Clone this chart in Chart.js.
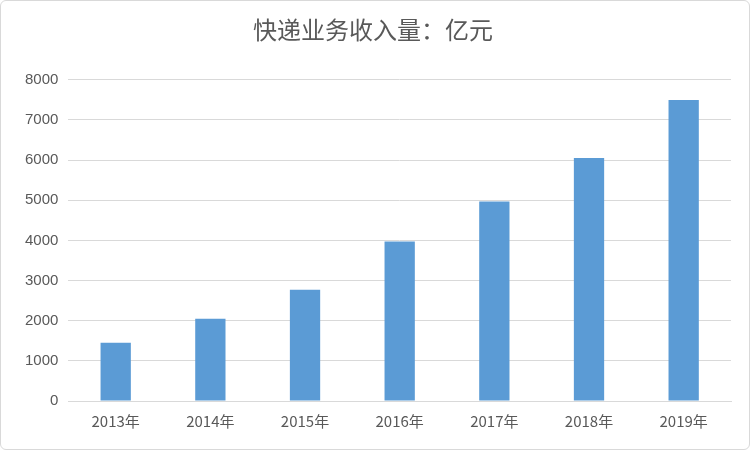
<!DOCTYPE html>
<html><head><meta charset="utf-8">
<script src="https://cdn.jsdelivr.net/npm/chart.js@4"></script>
<style>html,body{margin:0;padding:0;background:#fff}
#wrap{position:absolute;left:0;top:0;width:750px;height:450px;border:1px solid #d9d9d9;border-radius:6px;box-sizing:border-box}
</style></head><body>
<div id="wrap"><canvas id="c" width="750" height="450"></canvas></div>
<script>
const categories=["2013年","2014年","2015年","2016年","2017年","2018年","2019年"];
const values=[1450,2050,2770,3970,4970,6050,7500];
const title="快递业务收入量：亿元";
const font="'Noto Sans CJK SC', 'Liberation Sans', sans-serif";
new Chart(document.getElementById('c'),{
 type:'bar',
 data:{labels:categories,datasets:[{data:values,backgroundColor:'#5b9bd5',barPercentage:0.64,categoryPercentage:0.5}]},
 options:{responsive:false,animation:false,
  layout:{padding:{left:14,right:20,top:6,bottom:18}},
  plugins:{legend:{display:false},tooltip:{enabled:false},
   title:{display:true,text:title,color:'#595959',font:{family:font,size:24,weight:'normal'},padding:{top:8,bottom:36}}},
  scales:{
   x:{grid:{display:false},border:{color:'#d9d9d9'},ticks:{color:'#595959',font:{family:font,size:15}}},
   y:{min:0,max:8000,ticks:{stepSize:1000,color:'#595959',padding:10,callback:v=>String(v),font:{family:"'Liberation Sans', sans-serif",size:15}},
      grid:{color:'#d9d9d9',drawTicks:false},border:{display:false}}
  }}
});
</script></body></html>
